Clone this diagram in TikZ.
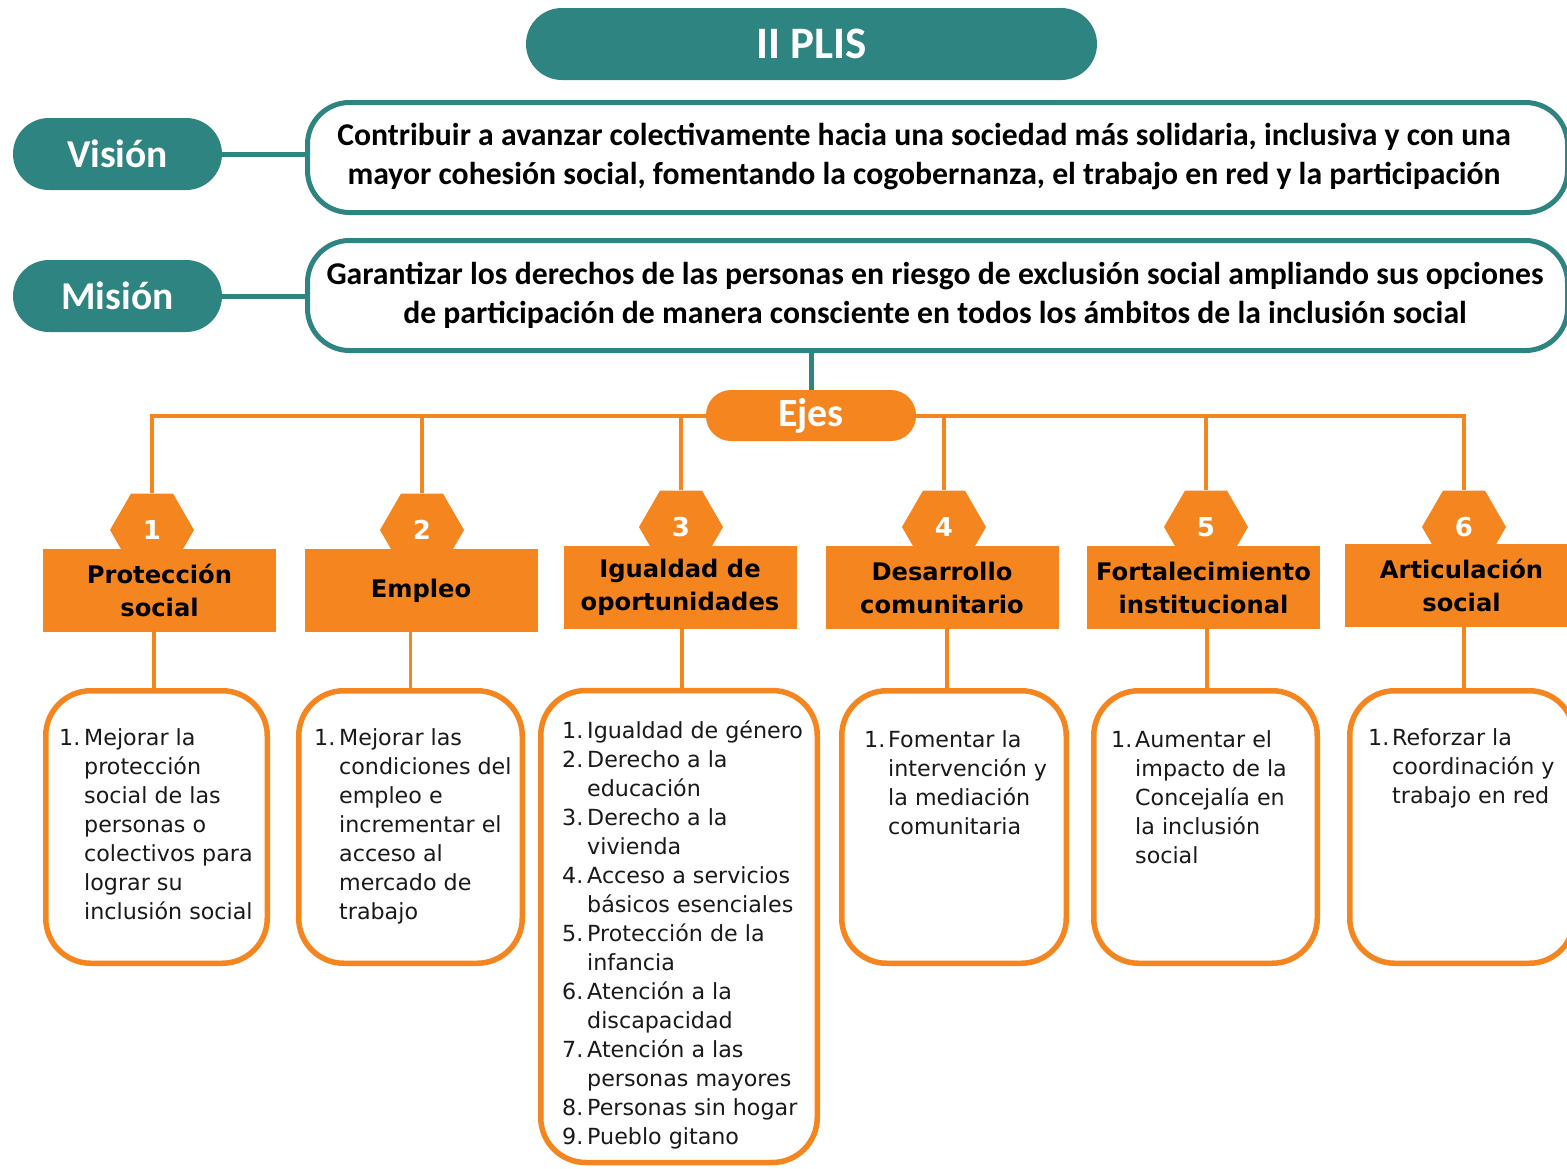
\documentclass[tikz,border=0pt]{standalone}
\usepackage{fontspec}
\usetikzlibrary{shapes.geometric}
\newfontfamily\carl{Carlito}
\newfontfamily\dvs{DejaVu Sans}
\definecolor{teal1}{RGB}{46,132,129}
\definecolor{orng}{RGB}{245,134,31}
\definecolor{txt}{RGB}{25,25,25}
\begin{document}
\begin{tikzpicture}[x=1pt,y=-1pt,
  pill/.style={fill=teal1, text=white, font=\carl\bfseries\fontsize{39.5}{39.5}\selectfont, rounded corners=36pt, minimum height=72pt, inner sep=0pt},
  tbox/.style={draw=teal1, line width=5pt, fill=white, rounded corners=42pt, inner sep=0pt, minimum height=110pt},
  ttext/.style={font=\carl\bfseries\fontsize{31.7}{39}\selectfont, align=center, text=black, inner sep=0pt},
  tline/.style={draw=teal1, line width=5pt},
  oline/.style={draw=orng, line width=4pt},
  vline/.style={draw=orng, line width=3.5pt},
  hexa/.style={regular polygon, regular polygon sides=6, minimum size=84pt, inner sep=0pt, fill=orng, text=white, font=\dvs\bfseries\fontsize{26}{26}\selectfont},
  hdr/.style={fill=orng, minimum width=233pt, minimum height=83pt, inner sep=0pt, font=\dvs\bfseries\fontsize{24.2}{33}\selectfont, align=center, text=black},
  obox/.style={draw=orng, line width=5.5pt, fill=white, rounded corners=45pt, inner sep=0pt},
  lst/.style={anchor=north west, inner sep=0pt, font=\dvs\fontsize{22.2}{29}\selectfont, text=txt}
]
\useasboundingbox (0,0) rectangle (1567,1168);
\clip (0,0) rectangle (1567,1168);
\fill[white] (0,0) rectangle (1567,1168);

% top part
\node[pill, minimum width=571pt, font=\carl\bfseries\fontsize{45}{45}\selectfont] (title) at (811.5,44) {II PLIS};
\node[pill, minimum width=209pt] (vis) at (117.5,154) {Visión};
\node[pill, minimum width=209pt] (mis) at (117.5,296) {Misión};
\node[tbox, minimum width=1260pt] (vbox) at (937.5,157.5) {};
\node[tbox, minimum width=1260pt] (mbox) at (937.5,295.5) {};
\node[ttext] (vtext) at (924,157) {Contribuir a avanzar colectivamente hacia una sociedad más solidaria, inclusiva y con una\\mayor cohesión social, fomentando la cogobernanza, el trabajo en red y la participación};
\node[ttext] (mtext) at (935,295) {Garantizar los derechos de las personas en riesgo de exclusión social ampliando sus opciones\\de participación de manera consciente en todos los ámbitos de la inclusión social};
\draw[tline] (vis.east) -- (vis.east -| vbox.west);
\draw[tline] (mis.east) -- (mis.east -| mbox.west);

% ejes
\node[fill=orng, text=white, rounded corners=25pt, minimum width=210pt, minimum height=51pt, inner sep=0pt, font=\carl\bfseries\fontsize{40}{40}\selectfont] (ejes) at (811,415.5) {Ejes};
\draw[tline] (ejes.north |- mbox.south) -- (ejes.north);

% hexagons
\node[hexa] (h1) at (152,530) {1};
\node[hexa] (h2) at (422,530) {2};
\node[hexa] (h3) at (681,527) {3};
\node[hexa] (h4) at (944,527) {4};
\node[hexa] (h5) at (1206,527) {5};
\node[hexa] (h6) at (1464,527) {6};
\foreach \h in {h1,h2,h3} \draw[oline] (ejes.west) -| (\h.north);
\foreach \h in {h4,h5,h6} \draw[oline] (ejes.east) -| (\h.north);

% headers
\node[hdr] (r1) at (159.5,590.5) {Protección\\social};
\node[hdr] (r2) at (421,590.5) {Empleo};
\node[hdr] (r3) at (680,587.5) {Igualdad de\\oportunidades};
\node[hdr] (r4) at (942,587.5) {Desarrollo\\comunitario};
\node[hdr] (r5) at (1203.5,587.5) {Fortalecimiento\\institucional};
\node[hdr] (r6) at (1461.5,585.5) {Articulación\\social};

% bottom boxes
\coordinate (c1) at (154,688);
\coordinate (c2) at (410.5,688);
\coordinate (c3) at (682,688);
\coordinate (c4) at (947,688);
\coordinate (c5) at (1207,688);
\coordinate (c6) at (1464,688);
\foreach \i in {1,...,6} \draw[vline] (r\i.south -| c\i) -- (c\i);

\node[obox, minimum width=221.5pt, minimum height=272.5pt] (b1) at (156.5,827) {};
\node[obox, minimum width=223.5pt, minimum height=272.5pt] (b2) at (410.5,827) {};
\node[obox, minimum width=276.5pt, minimum height=472pt] (b3) at (679,926.5) {};
\node[obox, minimum width=224.5pt, minimum height=272.5pt] (b4) at (954,827) {};
\node[obox, minimum width=223.5pt, minimum height=272.5pt] (b5) at (1205.5,827) {};
\node[obox, minimum width=224.5pt, minimum height=272.5pt] (b6) at (1462,827) {};

\node[lst] (t1) at (59,725) {\begin{tabular}{@{}p{25pt}@{}l@{}}
1.&Mejorar la\\ &protección\\ &social de las\\ &personas o\\ &colectivos para\\ &lograr su\\ &inclusión social\end{tabular}};
\node[lst] (t2) at (314,725) {\begin{tabular}{@{}p{25pt}@{}l@{}}
1.&Mejorar las\\ &condiciones del\\ &empleo e\\ &incrementar el\\ &acceso al\\ &mercado de\\ &trabajo\end{tabular}};
\node[lst] (t3) at (562,718) {\begin{tabular}{@{}p{25pt}@{}l@{}}
1.&Igualdad de género\\
2.&Derecho a la\\ &educación\\
3.&Derecho a la\\ &vivienda\\
4.&Acceso a servicios\\ &básicos esenciales\\
5.&Protección de la\\ &infancia\\
6.&Atención a la\\ &discapacidad\\
7.&Atención a las\\ &personas mayores\\
8.&Personas sin hogar\\
9.&Pueblo gitano\end{tabular}};
\node[lst] (t4) at (864,727) {\begin{tabular}{@{}p{24pt}@{}l@{}}
1.&Fomentar la\\ &intervención y\\ &la mediación\\ &comunitaria\end{tabular}};
\node[lst] (t5) at (1111,727) {\begin{tabular}{@{}p{24pt}@{}l@{}}
1.&Aumentar el\\ &impacto de la\\ &Concejalía en\\ &la inclusión\\ &social\end{tabular}};
\node[lst] (t6) at (1368,725) {\begin{tabular}{@{}p{24pt}@{}l@{}}
1.&Reforzar la\\ &coordinación y\\ &trabajo en red\end{tabular}};
\end{tikzpicture}
\end{document}
